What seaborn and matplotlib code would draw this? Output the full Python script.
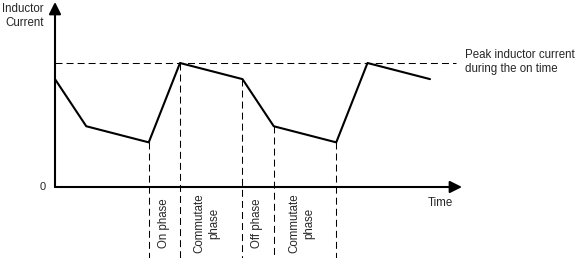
import numpy as np
import pandas as pd
import matplotlib
matplotlib.use("Agg")
import matplotlib.pyplot as plt
import seaborn as sns

# Data (time in arbitrary units, current normalised to the peak)
time = [0, 1, 3, 4, 6, 7, 9, 10, 12]
current = [0.87, 0.49, 0.36, 1.0, 0.87, 0.49, 0.36, 1.0, 0.87]
phase_edges = [3, 4, 6, 7, 9]
phase_labels = ["On phase", "Commutate\nphase", "Off phase", "Commutate\nphase"]
peak_level = 1.0

sns.set_style("white")
plt.rcParams['font.family'] = ['Liberation Sans', 'DejaVu Sans']

W, H = 583, 258
fig = plt.figure(figsize=(W / 100, H / 100), dpi=100)
ax = fig.add_axes([0, 0, 1, 1])

# pixel mapping: t=0 at x=55px, 31.25 px per unit; I=0 at y=187px, 124 px per unit
x0, sx = 55, 31.25
y0, sy = 187, 124
ax.set_xlim(-x0 / sx, (W - x0) / sx)
ax.set_ylim(-(H - y0) / sy, y0 / sy)
ax.axis("off")

def px_x(p):
    return (p - x0) / sx

def px_y(p):
    return (y0 - p) / sy

df = pd.DataFrame({"time": time, "current": current})
sns.lineplot(data=df, x="time", y="current", ax=ax, color="black", lw=1.5,
             sort=False, legend=False)

# axes with arrows
arrow = dict(arrowstyle="-|>,head_length=0.72,head_width=0.36",
             color="black", lw=1.5, shrinkA=0, shrinkB=0, mutation_scale=10)
ax.annotate("", xy=(0, px_y(2)), xytext=(0, 0), arrowprops=arrow)
ax.annotate("", xy=(px_x(462), 0), xytext=(0, 0), arrowprops=arrow)

# peak dashed line
ax.plot([0, px_x(456)], [peak_level, peak_level], color="black", lw=0.75,
        dashes=(6.7, 3.9))

# vertical dashed lines
for t in phase_edges:
    top = current[time.index(t)]
    ax.plot([t, t], [top, px_y(258)], color="black", lw=0.75, dashes=(6.7, 3.9))

# phase labels
label_x = [164, 207, 257, 302]
for lx, lab in zip(label_x, phase_labels):
    ax.text(px_x(lx), px_y(223), lab, rotation=90, ha="center", va="center",
            fontsize=8.3, multialignment="center", linespacing=1.3)

ax.text(px_x(44), px_y(16), "Inductor\nCurrent", ha="right", va="center",
        fontsize=8.3, multialignment="right", linespacing=1.2)
ax.text(px_x(43), 0, "0", ha="center", va="center", fontsize=8)
ax.text(px_x(440), px_y(203), "Time", ha="center", va="center", fontsize=8.3)
ax.text(px_x(465), px_y(62), "Peak inductor current\nduring the on time",
        ha="left", va="center", fontsize=8.3, linespacing=1.2)

fig.savefig("out.png", dpi=100)
